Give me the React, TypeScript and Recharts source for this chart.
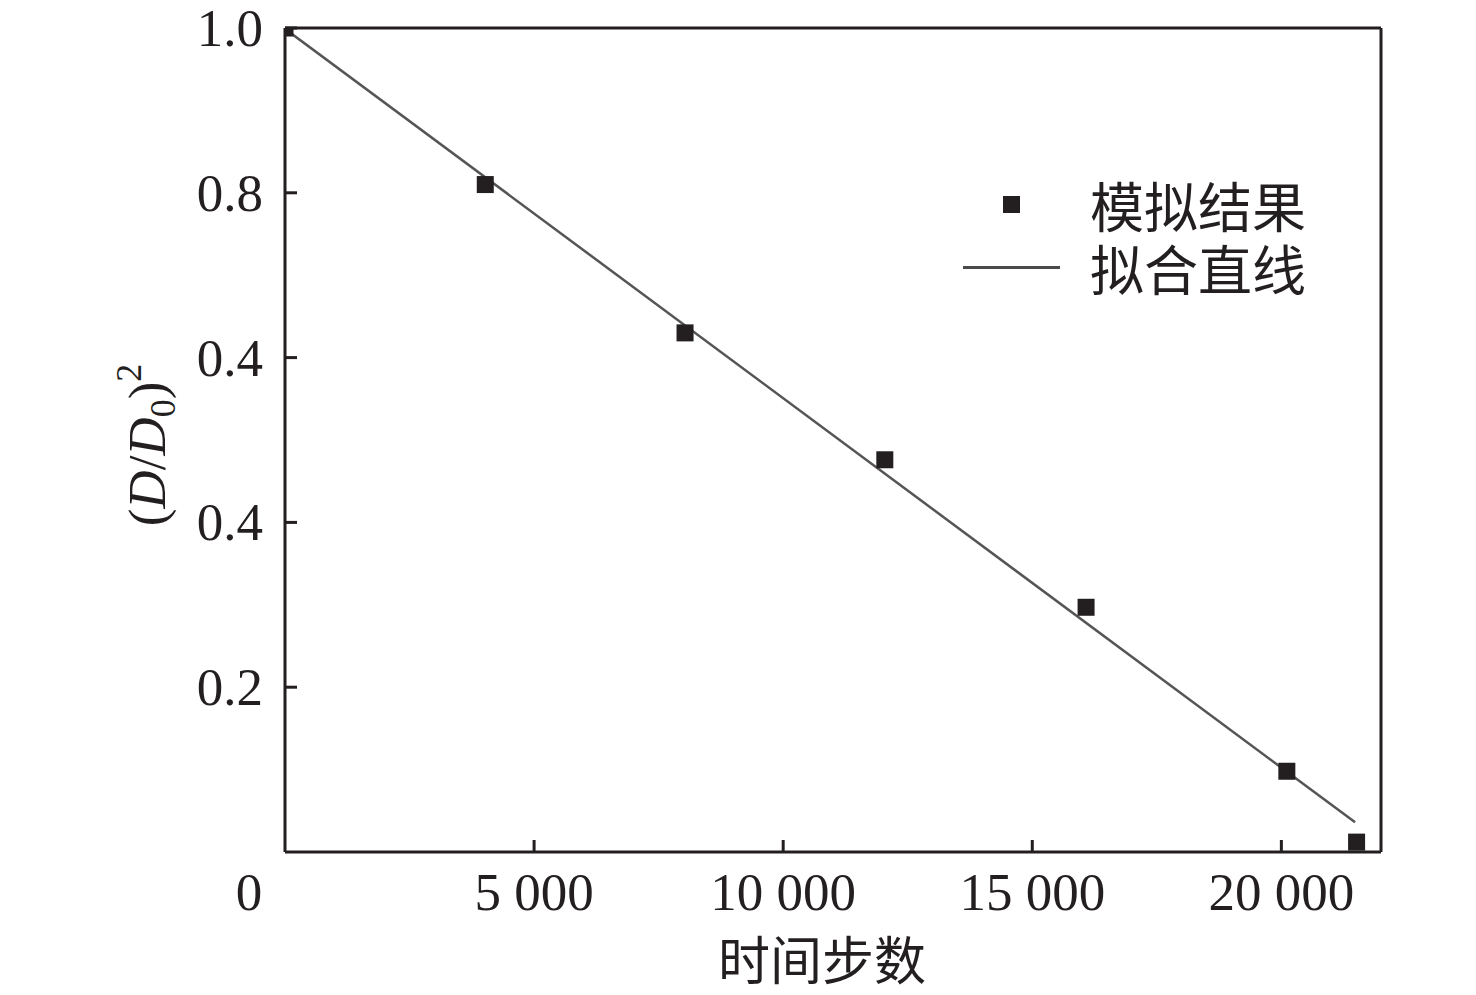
import React from 'react';
import {
  ComposedChart,
  Legend,
  Line,
  ReferenceLine,
  Scatter,
  XAxis,
  YAxis,
} from 'recharts';

// simulation points
const simX = [0, 4020, 8030, 12040, 16080, 20110, 21510];
const simY = [1.0, 0.81, 0.63, 0.476, 0.297, 0.098, 0.012];

// fitted straight line (two ends)
const fitX = [0, 21480];
const fitY = [0.999, 0.036];

const xTicks = [0, 5000, 10000, 15000, 20000];
const xTickLabels = ['0', '5 000', '10 000', '15 000', '20 000'];
const yTicks = [0.2, 0.4, 0.6, 0.8, 1.0];
const yTickLabels = ['0.2', '0.4', '0.4', '0.8', '1.0'];

const xMax = 22000;
const yMax = 1;

const simData = simX.map((x, i) => ({ x, y: simY[i] }));
const fitData = fitX.map((x, i) => ({ x, y: fitY[i] }));

const INK = '#231f20';
const SERIF = '"Liberation Serif", "Times New Roman", serif';
const CJK = '"Noto Sans CJK SC", sans-serif';

function XTick(props: any) {
  const { x, y, payload } = props;
  const i = xTicks.indexOf(payload.value);
  return (
    <g>
      {payload.value !== 0 && (
        <line x1={x} x2={x} y1={y} y2={y - 12} stroke={INK} strokeWidth={3} />
      )}
      <text
        x={payload.value === 0 ? x - 36 : x}
        y={y + 58}
        textAnchor="middle"
        fontFamily={SERIF}
        fontSize={53}
        fill={INK}
      >
        {xTickLabels[i]}
      </text>
    </g>
  );
}

function YTick(props: any) {
  const { x, y, payload } = props;
  const i = yTicks.findIndex((t) => Math.abs(t - payload.value) < 1e-6);
  return (
    <g>
      <line x1={x} x2={x + 12} y1={y} y2={y} stroke={INK} strokeWidth={3} />
      <text
        x={x - 22}
        y={y}
        dy="0.34em"
        textAnchor="end"
        fontFamily={SERIF}
        fontSize={53}
        fill={INK}
      >
        {yTickLabels[i]}
      </text>
    </g>
  );
}

function YTitle(props: any) {
  const { viewBox } = props;
  const cx = viewBox.x + 165;
  const cy = viewBox.y + viewBox.height / 2 + 5;
  return (
    <text
      transform={`translate(${cx},${cy}) rotate(-90)`}
      textAnchor="middle"
      fontFamily={SERIF}
      fontSize={53}
      fill={INK}
    >
      (<tspan fontStyle="italic">D</tspan>/<tspan fontStyle="italic">D</tspan>
      <tspan fontSize={36} dy={10}>0</tspan>
      <tspan dy={-10}>)</tspan>
      <tspan fontSize={36} dy={-24}>2</tspan>
    </text>
  );
}

function XTitle(props: any) {
  const { viewBox } = props;
  return (
    <text
      x={viewBox.x + viewBox.width / 2 - 11}
      y={viewBox.y + 105}
      textAnchor="middle"
      dominantBaseline="central"
      fontFamily={CJK}
      fontSize={52}
      fill={INK}
    >
      时间步数
    </text>
  );
}

function LegendBox() {
  const row: React.CSSProperties = {
    position: 'relative',
    height: 63,
    display: 'flex',
    alignItems: 'center',
  };
  const label: React.CSSProperties = {
    position: 'absolute',
    left: 135,
    fontFamily: CJK,
    fontSize: 54,
    lineHeight: 1,
    color: INK,
    whiteSpace: 'nowrap',
  };
  return (
    <div style={{ width: 400 }}>
      <div style={row}>
        <div
          style={{ position: 'absolute', left: 48, width: 17, height: 17, background: INK }}
        />
        <span style={label}>模拟结果</span>
      </div>
      <div style={row}>
        <div
          style={{ position: 'absolute', left: 8, width: 97, height: 3, background: '#4a4a4a' }}
        />
        <span style={label}>拟合直线</span>
      </div>
    </div>
  );
}

function Square(props: any) {
  const { cx, cy } = props;
  return <rect x={cx - 8.5} y={cy - 8.5} width={17} height={17} fill={INK} />;
}

export default function App() {
  return (
    <div style={{ position: 'absolute', left: 0, top: 0, background: '#fff' }}>
      <ComposedChart
        width={1476}
        height={995}
        margin={{ top: 28, right: 95, bottom: 0, left: 0 }}
      >
        <XAxis
          dataKey="x"
          type="number"
          domain={[0, xMax]}
          ticks={xTicks}
          allowDataOverflow
          height={143}
          tickSize={0}
          tickMargin={0}
          tickLine={false}
          tick={<XTick />}
          axisLine={{ stroke: INK, strokeWidth: 3 }}
          label={<XTitle />}
        />
        <YAxis
          dataKey="y"
          type="number"
          domain={[0, yMax]}
          ticks={yTicks}
          allowDataOverflow
          width={285}
          tickSize={0}
          tickMargin={0}
          tickLine={false}
          tick={<YTick />}
          axisLine={{ stroke: INK, strokeWidth: 3 }}
          label={<YTitle />}
        />
        {/* closed frame: top and right edges */}
        <ReferenceLine y={yMax} stroke={INK} strokeWidth={3} />
        <ReferenceLine x={xMax} stroke={INK} strokeWidth={3} />
        <Legend
          layout="vertical"
          align="center"
          verticalAlign="middle"
          content={<LegendBox />}
          wrapperStyle={{ position: 'absolute', left: 955, top: 173, width: 400 }}
        />
        <Line
          data={fitData}
          dataKey="y"
          type="linear"
          stroke="#555555"
          strokeWidth={2.5}
          dot={false}
          activeDot={false}
          isAnimationActive={false}
        />
        <Scatter
          data={simData}
          dataKey="y"
          shape={<Square />}
          isAnimationActive={false}
        />
      </ComposedChart>
    </div>
  );
}
